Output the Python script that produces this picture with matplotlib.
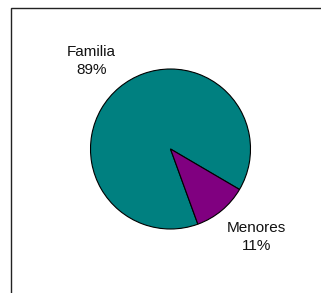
import matplotlib
matplotlib.use("Agg")
import matplotlib.pyplot as plt
from matplotlib.patches import Rectangle

categories = ["Familia", "Menores"]
values = [89, 11]
colors = ["#008080", "#800080"]

W, H = 321, 293
fig = plt.figure(figsize=(W / 100, H / 100), dpi=100)
fig.patch.set_facecolor("white")

# outer frame (extends past right/bottom edges)
fig.patches.append(Rectangle((11.5 / W, -0.1), 1.2, (H - 7.5) / H + 0.1,
                             transform=fig.transFigure, fill=False,
                             edgecolor="#222222", linewidth=1.0))

cx, cy, r = 170.5, 149, 80
ax = fig.add_axes([(cx - r) / W, (H - cy - r) / H, 2 * r / W, 2 * r / H])
ax.pie(values, colors=colors, startangle=-70, counterclock=False, radius=1,
       wedgeprops=dict(edgecolor="black", linewidth=0.8))
ax.set_xlim(-1, 1)
ax.set_ylim(-1, 1)
ax.set_aspect("equal")
ax.axis("off")

label_pos = [(-0.99, 1.10), (1.07, -1.10)]
for cat, val, (x, y) in zip(categories, values, label_pos):
    ax.text(x, y, f"{cat}\n{val}%", ha="center", va="center", fontsize=11,
            family="Liberation Sans", linespacing=1.37, color="#111111",
            clip_on=False)

fig.savefig("out.png", dpi=100)
